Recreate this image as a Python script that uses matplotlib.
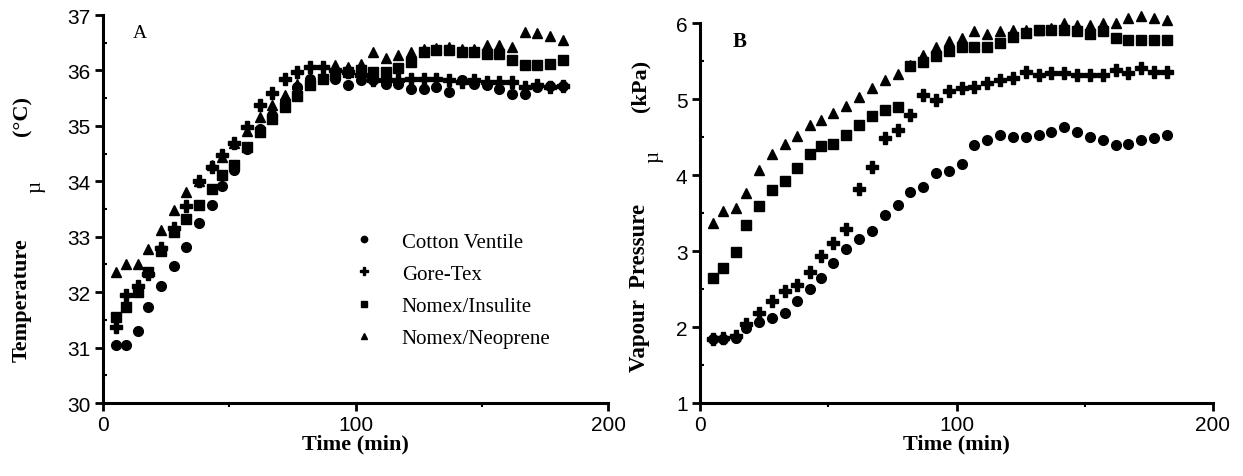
import matplotlib.pyplot as plt
import numpy as np
from matplotlib.ticker import MultipleLocator

# sampling times (min), same for both panels
time_min = [5, 9, 14, 18, 23, 28, 33, 38, 43, 47, 52, 57, 62, 67, 72, 77, 82, 87, 92,
            97, 102, 107, 112, 117, 122, 127, 132, 137, 142, 147, 152, 157, 162, 167,
            172, 177, 182]

series_names = ["Cotton Ventile", "Gore-Tex", "Nomex/Insulite", "Nomex/Neoprene"]

# Panel A: mean skin temperature (deg C)
temp_cotton = [31.05, 31.05, 31.30, 31.73, 32.11, 32.48, 32.82, 33.25, 33.58, 33.91,
               34.20, 34.59, 34.95, 35.20, 35.45, 35.70, 35.85, 35.85, 35.85, 35.73,
               35.82, 35.82, 35.76, 35.76, 35.67, 35.67, 35.70, 35.61, 35.82, 35.76,
               35.73, 35.67, 35.58, 35.58, 35.70, 35.72, 35.72]
temp_goretex = [31.37, 31.94, 32.11, 32.33, 32.80, 33.16, 33.56, 34.01, 34.25, 34.47,
                34.69, 34.98, 35.38, 35.60, 35.85, 35.97, 36.06, 36.06, 36.00, 35.97,
                35.91, 35.82, 35.82, 35.82, 35.85, 35.85, 35.85, 35.82, 35.79, 35.82,
                35.79, 35.79, 35.79, 35.70, 35.73, 35.70, 35.72]
temp_insulite = [31.55, 31.73, 32.00, 32.36, 32.74, 33.08, 33.32, 33.58, 33.86, 34.12,
                 34.30, 34.62, 34.89, 35.13, 35.34, 35.53, 35.73, 35.85, 35.94, 35.97,
                 36.00, 35.98, 35.98, 36.04, 36.15, 36.33, 36.36, 36.36, 36.34, 36.33,
                 36.30, 36.30, 36.18, 36.09, 36.09, 36.12, 36.18]
temp_neoprene = [32.36, 32.51, 32.51, 32.77, 33.13, 33.49, 33.80, 34.01, 34.30, 34.43,
                 34.69, 34.90, 35.16, 35.38, 35.56, 35.76, 35.85, 35.90, 36.09, 36.06,
                 36.12, 36.33, 36.22, 36.27, 36.34, 36.38, 36.40, 36.42, 36.39, 36.39,
                 36.45, 36.45, 36.42, 36.69, 36.68, 36.63, 36.54]

# Panel B: vapour pressure (kPa)
vp_cotton = [1.84, 1.84, 1.86, 1.99, 2.06, 2.12, 2.19, 2.34, 2.50, 2.65, 2.84, 3.02,
             3.16, 3.26, 3.47, 3.60, 3.78, 3.84, 4.03, 4.05, 4.14, 4.39, 4.46, 4.52,
             4.50, 4.50, 4.53, 4.57, 4.63, 4.57, 4.50, 4.46, 4.39, 4.41, 4.46, 4.49, 4.52]
vp_goretex = [1.84, 1.86, 1.88, 2.04, 2.19, 2.34, 2.48, 2.55, 2.72, 2.94, 3.11, 3.29,
              3.82, 4.11, 4.49, 4.59, 4.79, 5.05, 4.99, 5.10, 5.14, 5.16, 5.21, 5.25,
              5.27, 5.36, 5.32, 5.34, 5.34, 5.32, 5.32, 5.32, 5.38, 5.34, 5.41, 5.35, 5.35]
vp_insulite = [2.64, 2.78, 2.99, 3.34, 3.59, 3.80, 3.92, 4.09, 4.27, 4.38, 4.41, 4.52,
               4.66, 4.77, 4.86, 4.90, 5.43, 5.49, 5.56, 5.63, 5.69, 5.69, 5.69, 5.74,
               5.82, 5.87, 5.91, 5.91, 5.91, 5.89, 5.85, 5.89, 5.80, 5.78, 5.78, 5.78, 5.78]
vp_neoprene = [3.37, 3.52, 3.56, 3.76, 4.06, 4.28, 4.41, 4.51, 4.66, 4.72, 4.81, 4.91,
               5.03, 5.14, 5.25, 5.33, 5.45, 5.58, 5.69, 5.76, 5.80, 5.89, 5.85, 5.89,
               5.91, 5.91, 5.91, 5.93, 6.00, 5.98, 5.98, 6.00, 6.00, 6.07, 6.09, 6.07, 6.04]

markers = ["o", "P", "s", "^"]
sizes = [7, 8, 6.5, 7.5]

serif = ["Liberation Serif", "DejaVu Serif"]
sans = ["Liberation Sans", "DejaVu Sans"]

fig = plt.figure(figsize=(12.43, 4.77), dpi=100)
ax_a = fig.add_axes([103 / 1243, 1 - 404 / 477, (608 - 103) / 1243, (404 - 16) / 477])
ax_b = fig.add_axes([700 / 1243, 1 - 404 / 477, (1213 - 700) / 1243, (404 - 24) / 477])


def style_axis(ax, ymin, ymax):
    ax.set_xlim(0, 200)
    ax.set_ylim(ymin, ymax)
    for side in ["top", "right"]:
        ax.spines[side].set_visible(False)
    for side in ["left", "bottom"]:
        ax.spines[side].set_linewidth(2.2)
    ax.xaxis.set_major_locator(MultipleLocator(100))
    ax.xaxis.set_minor_locator(MultipleLocator(50))
    ax.yaxis.set_major_locator(MultipleLocator(1))
    ax.yaxis.set_minor_locator(MultipleLocator(0.5))
    ax.tick_params(which="major", length=6, width=2, pad=3, labelsize=15)
    ax.tick_params(which="minor", length=3, width=1.5)
    ax.tick_params(axis="y", which="minor", direction="in")
    for lab in ax.get_xticklabels() + ax.get_yticklabels():
        lab.set_fontfamily(sans)


# Panel A
temp_series = [temp_cotton, temp_goretex, temp_insulite, temp_neoprene]
for name, vals, m, s in zip(series_names, temp_series, markers, sizes):
    ax_a.plot(time_min, vals, linestyle="none", marker=m, markersize=s,
              color="black", label=name, clip_on=False)
style_axis(ax_a, 30, 37)
ax_a.text(140 / 1243, 1 - 33 / 477, "A", transform=fig.transFigure, fontsize=14,
          family=serif, ha="center", va="center")
leg = ax_a.legend(loc="upper left", bbox_to_anchor=(0.48, 0.462), frameon=False,
                  prop={"family": serif, "size": 15}, markerscale=0.65,
                  handletextpad=1.3, labelspacing=0.6, handlelength=1.0,
                  borderaxespad=0)
ax_a.set_xlabel("Time (min)", fontsize=16, family=serif, fontweight="bold", labelpad=-1)

fig.text(22 / 1243, 1 - 300 / 477, "Temperature", rotation=90, fontsize=16,
         family=serif, fontweight="bold", ha="center", va="center")
fig.text(36 / 1243, 1 - 187 / 477, "µ", rotation=90, fontsize=15,
         family=serif, ha="center", va="center")
fig.text(22 / 1243, 1 - 116 / 477, "(°C)", rotation=90, fontsize=16,
         family=serif, fontweight="bold", ha="center", va="center")

# Panel B
vp_series = [vp_cotton, vp_goretex, vp_insulite, vp_neoprene]
for name, vals, m, s in zip(series_names, vp_series, markers, sizes):
    ax_b.plot(time_min, vals, linestyle="none", marker=m, markersize=s,
              color="black", label=name, clip_on=False)
style_axis(ax_b, 1, 6)
ax_b.get_xticklabels()[0].set_fontstyle("italic")
ax_b.text(740 / 1243, 1 - 42 / 477, "B", transform=fig.transFigure, fontsize=15,
          family=serif, fontweight="bold", ha="center", va="center")
ax_b.set_xlabel("Time (min)", fontsize=16, family=serif, fontweight="bold", labelpad=-1)

fig.text(640 / 1243, 1 - 288 / 477, "Vapour  Pressure", rotation=90, fontsize=16.5,
         family=serif, fontweight="bold", ha="center", va="center")
fig.text(654 / 1243, 1 - 157 / 477, "µ", rotation=90, fontsize=15,
         family=serif, ha="center", va="center")
fig.text(640 / 1243, 1 - 86 / 477, "(kPa)", rotation=90, fontsize=16,
         family=serif, fontweight="bold", ha="center", va="center")

fig.savefig("out.png", dpi=100)
